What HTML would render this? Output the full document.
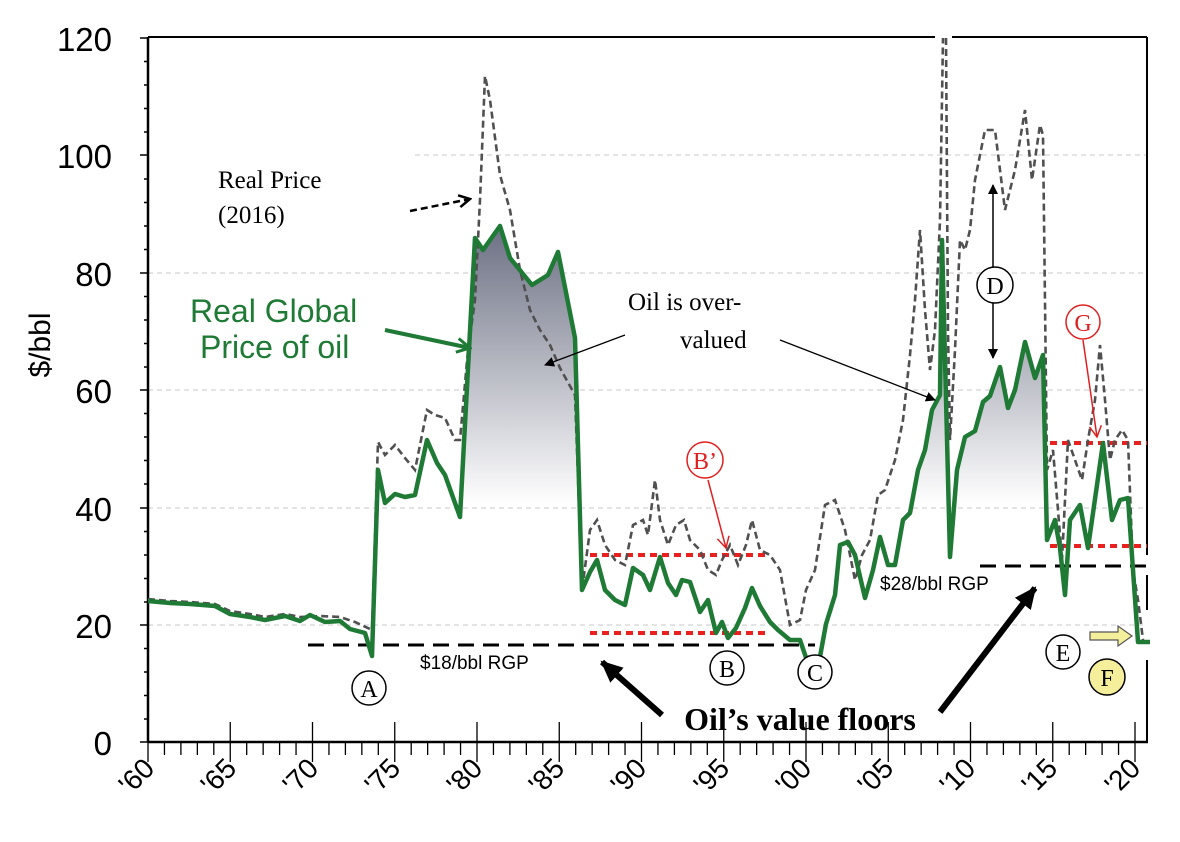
<!DOCTYPE html>
<html><head><meta charset="utf-8"><style>
body{margin:0;background:#fff}
svg{display:block}
</style></head><body>
<svg width="1180" height="842" viewBox="0 0 1180 842" xmlns="http://www.w3.org/2000/svg">
<defs>
<linearGradient id="g" gradientUnits="userSpaceOnUse" x1="0" y1="230" x2="0" y2="505">
<stop offset="0" stop-color="#6e7285"/><stop offset="1" stop-color="#ffffff"/></linearGradient>
<marker id="ab" markerWidth="10" markerHeight="10" refX="9" refY="5" orient="auto" markerUnits="userSpaceOnUse"><path d="M0,0 L10,5 L0,10 z" fill="#000"/></marker>
<marker id="ao" markerWidth="14" markerHeight="14" refX="12" refY="7" orient="auto" markerUnits="userSpaceOnUse"><path d="M1,1 L12,7 L1,13" fill="none" stroke="#000" stroke-width="2.5"/></marker>
<marker id="ag" markerWidth="16" markerHeight="16" refX="14" refY="8" orient="auto" markerUnits="userSpaceOnUse"><path d="M1,1 L14,8 L1,15" fill="none" stroke="#1e7a35" stroke-width="3"/></marker>
<marker id="ar" markerWidth="14" markerHeight="14" refX="12" refY="7" orient="auto" markerUnits="userSpaceOnUse"><path d="M1,1 L12,7 L1,13" fill="none" stroke="#e02020" stroke-width="1.5"/></marker>
<marker id="abig" markerWidth="24" markerHeight="24" refX="20" refY="12" orient="auto" markerUnits="userSpaceOnUse"><path d="M0,2 L22,12 L0,22 z" fill="#000"/></marker>
</defs>

<g stroke="#c8c8c8" stroke-width="1" stroke-dasharray="5,4">
<line x1="415" y1="155" x2="1147" y2="155"/>
<line x1="148" y1="273" x2="1147" y2="273"/>
<line x1="148" y1="390" x2="1147" y2="390"/>
<line x1="148" y1="508" x2="1147" y2="508"/>
<line x1="148" y1="625" x2="1147" y2="625"/>
</g>

<polygon fill="url(#g)" points="460,517 475,238 483,250 500,226 510,258 532,285 548,275 558,252 575,338 580,505 460,505"/>
<polygon fill="url(#g)" points="895,505 903,505 903,520 910,513 918,470 925,450 932,410 940,395 942,240 950,505"/>
<polygon fill="url(#g)" points="955,505 957,470 965,437 975,431 983,402 990,396 1000,367 1008,408 1015,390 1025,342 1035,378 1043,355 1047,505"/>

<g stroke="#000" fill="none">
<line x1="148" y1="37" x2="148" y2="742" stroke-width="2.5"/>
<line x1="148" y1="742" x2="1148" y2="742" stroke-width="2.5"/>
<line x1="148" y1="37" x2="935" y2="37" stroke-width="2"/>
<line x1="952" y1="37" x2="1147" y2="37" stroke-width="2"/>
<line x1="1147" y1="37" x2="1147" y2="555" stroke-width="2"/>
<line x1="1147" y1="575" x2="1147" y2="610" stroke-width="2"/>
<line x1="1147" y1="660" x2="1147" y2="742" stroke-width="2"/>
</g>
<g stroke="#000" stroke-width="1.5">
<path d="M140,38h8M140,155h8M140,273h8M140,390h8M140,508h8M140,625h8M140,742h8"/>
<path d="M144,61.5h4M144,85h4M144,108.5h4M144,132h4M144,179h4M144,202.5h4M144,226h4M144,249.5h4M144,296.5h4M144,320h4M144,343.5h4M144,367h4M144,413.5h4M144,437h4M144,460.5h4M144,484h4M144,531.5h4M144,555h4M144,578.5h4M144,602h4M144,648.5h4M144,672h4M144,695.5h4M144,719h4"/>
</g>
<g id="xt" stroke="#000" stroke-width="1.3"></g>

<line x1="308" y1="645" x2="815" y2="645" stroke="#000" stroke-width="3" stroke-dasharray="16,9"/>
<line x1="980" y1="566" x2="1155" y2="566" stroke="#000" stroke-width="3" stroke-dasharray="16,9"/>
<g stroke="#e82020" stroke-width="4" stroke-dasharray="7,5">
<line x1="590" y1="555" x2="765" y2="555"/>
<line x1="590" y1="633" x2="765" y2="633"/>
<line x1="1050" y1="443" x2="1147" y2="443"/>
<line x1="1050" y1="546" x2="1147" y2="546"/>
</g>

<polyline fill="none" stroke="#505050" stroke-width="2.6" stroke-dasharray="7,4" points="148,599 170,601 190,602 215,604 230,611 250,614 265,617 285,614 300,617 320,616 340,617 355,622 372,630 378,442 385,455 395,445 405,458 415,470 427,410 435,415 445,418 455,440 460,440 468,350 475,300 480,200 485,76 490,100 500,175 510,210 520,270 530,310 540,330 550,345 560,368 575,395 582,590 590,530 597,520 605,545 615,560 625,565 633,525 643,520 648,535 655,480 660,520 668,545 676,525 684,520 690,540 700,550 708,570 716,575 722,560 730,545 738,565 746,545 752,520 760,550 770,555 780,570 790,625 800,620 806,590 815,570 825,505 835,500 845,530 855,580 862,555 870,540 878,495 885,490 895,460 903,420 910,355 915,300 920,230 925,310 930,370 935,330 940,220 943,38"/>
<polyline fill="none" stroke="#505050" stroke-width="2.6" stroke-dasharray="7,4" points="946,38 948,330 950,440 955,350 960,240 965,250 970,230 975,180 985,130 995,130 1005,210 1015,170 1025,110 1032,180 1040,125 1043,135 1047,470 1053,450 1058,510 1062,560 1068,440 1075,460 1082,480 1088,440 1095,400 1100,345 1105,400 1110,460 1115,440 1122,430 1128,440 1133,570 1138,600 1143,640"/>

<polyline fill="none" stroke="#1e7a35" stroke-width="4.5" stroke-linejoin="round" points="148,601 170,603 190,604 215,606 230,614 250,617 265,620 285,616 300,621 310,615 325,622 340,621 350,629 365,633 372,656 378,470 385,503 395,494 405,497 415,495 427,440 437,463 445,475 460,517 475,238 483,250 500,226 510,258 532,285 548,275 558,252 575,338 582,590 590,572 597,560 605,590 615,600 625,605 633,568 643,575 650,590 660,557 668,583 676,595 682,580 690,582 700,612 708,600 716,633 722,622 728,638 736,628 745,608 752,588 760,606 770,622 778,630 790,640 800,640 815,684 826,624 835,595 840,545 848,542 855,555 865,598 873,570 880,537 888,565 895,565 903,520 910,513 918,470 925,450 932,410 940,395 942,240 950,557 957,470 965,437 975,431 983,402 990,396 1000,367 1008,408 1015,390 1025,342 1035,378 1043,355 1047,540 1055,520 1060,548 1065,595 1070,520 1080,505 1088,548 1103,443 1112,520 1120,500 1128,498 1138,642 1150,642"/>

<g font-family="Liberation Sans, sans-serif" font-size="33" text-anchor="end" fill="#000">
<text x="112" y="51">120</text><text x="112" y="168">100</text><text x="112" y="286">80</text>
<text x="112" y="403">60</text><text x="112" y="521">40</text><text x="112" y="638">20</text><text x="112" y="755">0</text>
</g>
<text transform="translate(50,345) rotate(-90)" font-family="Liberation Sans, sans-serif" font-size="30" text-anchor="middle">$/bbl</text>
<g font-family="Liberation Sans, sans-serif" font-size="28" text-anchor="end">
<text transform="translate(156,770) rotate(-45)">'60</text>
<text transform="translate(238,770) rotate(-45)">'65</text>
<text transform="translate(320,770) rotate(-45)">'70</text>
<text transform="translate(402,770) rotate(-45)">'75</text>
<text transform="translate(484,770) rotate(-45)">'80</text>
<text transform="translate(566,770) rotate(-45)">'85</text>
<text transform="translate(648,770) rotate(-45)">'90</text>
<text transform="translate(731,770) rotate(-45)">'95</text>
<text transform="translate(813,770) rotate(-45)">'00</text>
<text transform="translate(895,770) rotate(-45)">'05</text>
<text transform="translate(977,770) rotate(-45)">'10</text>
<text transform="translate(1059,770) rotate(-45)">'15</text>
<text transform="translate(1142,770) rotate(-45)">'20</text>
</g>

<g font-family="Liberation Serif, serif" font-size="25">
<text x="218" y="188">Real Price</text><text x="218" y="223">(2016)</text>
<text x="628" y="310">Oil is over-</text><text x="680" y="348">valued</text>
</g>
<g font-family="Liberation Sans, sans-serif" font-size="32" fill="#1e7a35">
<text x="190" y="322">Real Global</text><text x="200" y="358">Price of oil</text>
</g>
<g font-family="Liberation Sans, sans-serif" font-size="19">
<text x="420" y="669">$18/bbl RGP</text><text x="880" y="590">$28/bbl RGP</text>
</g>
<text x="800" y="730" font-family="Liberation Serif, serif" font-weight="bold" font-size="32" text-anchor="middle">Oil’s value floors</text>

<line x1="410" y1="211" x2="470" y2="199" stroke="#000" stroke-width="2.5" stroke-dasharray="7,4" marker-end="url(#ao)"/>
<line x1="385" y1="330" x2="470" y2="348" stroke="#1e7a35" stroke-width="4" marker-end="url(#ag)"/>
<line x1="625" y1="335" x2="545" y2="365" stroke="#000" stroke-width="1.3" marker-end="url(#ab)"/>
<line x1="780" y1="340" x2="935" y2="400" stroke="#000" stroke-width="1.3" marker-end="url(#ab)"/>
<line x1="662" y1="715" x2="602" y2="662" stroke="#000" stroke-width="6" marker-end="url(#abig)"/>
<line x1="940" y1="712" x2="1035" y2="588" stroke="#000" stroke-width="6" marker-end="url(#abig)"/>
<line x1="993" y1="268" x2="993" y2="185" stroke="#000" stroke-width="1.5" marker-end="url(#ab)"/>
<line x1="993" y1="303" x2="993" y2="358" stroke="#000" stroke-width="1.5" marker-end="url(#ab)"/>
<line x1="1083" y1="340" x2="1097" y2="437" stroke="#e02020" stroke-width="1.5" marker-end="url(#ar)"/>
<line x1="708" y1="480" x2="726" y2="548" stroke="#e02020" stroke-width="1.5" marker-end="url(#ar)"/>
<path d="M1090,632 h28 v-6 l14,10 l-14,10 v-6 h-28 z" fill="#f3ef9a" stroke="#555" stroke-width="1.2"/>

<g font-family="Liberation Serif, serif" font-size="24" text-anchor="middle" stroke-width="1.5">
<circle cx="369" cy="688" r="17" fill="#fff" stroke="#000"/><text x="369" y="697">A</text>
<circle cx="727" cy="668" r="17" fill="#fff" stroke="#000"/><text x="727" y="677">B</text>
<circle cx="815" cy="672" r="17" fill="#fff" stroke="#000"/><text x="815" y="681">C</text>
<circle cx="995" cy="285" r="18" fill="#fff" stroke="#000"/><text x="995" y="294">D</text>
<circle cx="1063" cy="652" r="17" fill="#fff" stroke="#000"/><text x="1063" y="661">E</text>
<circle cx="1107" cy="677" r="18" fill="#f5ef9c" stroke="#000"/><text x="1107" y="686">F</text>
<circle cx="1083" cy="322" r="17" fill="#fff" stroke="#e02020"/><text x="1083" y="331" fill="#e02020">G</text>
<circle cx="705" cy="460" r="18" fill="#fff" stroke="#e02020"/><text x="705" y="469" fill="#e02020">B’</text>
</g>
</svg>
<script>
var g=document.getElementById('xt'),s='';
for(var i=0;i<=60;i++){var x=148+i*16.45;if(x>1148)break;var big=i%5==0;s+='<line x1="'+x+'" y1="'+(big?722:742)+'" x2="'+x+'" y2="'+(big?762:755)+'"/>';}
g.innerHTML=s;
</script>
</body></html>
